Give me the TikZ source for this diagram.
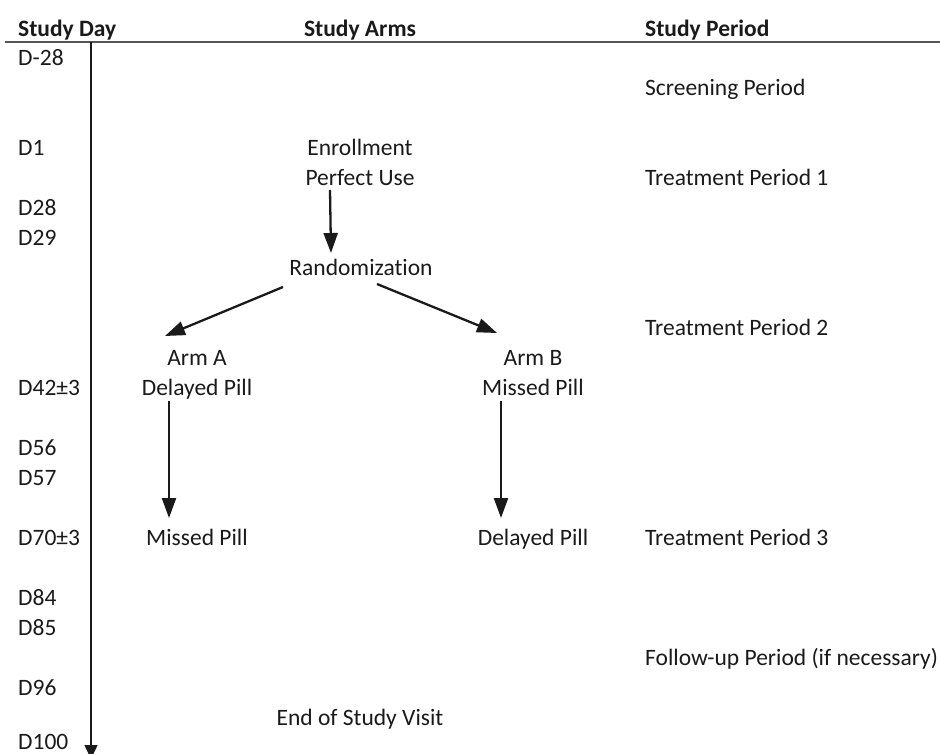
\documentclass[tikz,border=0pt]{standalone}
\usepackage{fontspec}
\setmainfont[Ligatures={NoCommon}]{Carlito}
\usetikzlibrary{arrows.meta,calc}
\definecolor{ink}{HTML}{1A1A1A}
\definecolor{rule}{HTML}{555555}
\begin{document}
\begin{tikzpicture}[x=1pt,y=-1pt,
  txt/.style={inner sep=0pt, text height=15pt, text depth=0pt, font=\fontsize{23.5}{28}\selectfont, text=ink},
  lt/.style={txt, anchor=west},
  hd/.style={txt, font=\fontsize{23.5}{28}\selectfont\bfseries},
  arr/.style={draw=ink, line width=2.3pt, -{Triangle[length=20pt,width=14pt]}},
  axis/.style={draw=ink, line width=1.5pt, -{Triangle[length=14pt,width=13pt]}},
  hrule/.style={draw=rule, line width=2pt}]
\useasboundingbox (0,0) rectangle (940,753);
\clip (0,0) rectangle (940,753);
% headers
\node[hd, anchor=west] (hday) at (18,28.5) {Study Day};
\node[hd] (harms) at (360,28.5) {Study Arms};
\node[hd, anchor=west] (hper) at (645,28.5) {Study Period};
\coordinate (rl) at (5,41.5);
\coordinate (rr) at (940,41.5);
\draw[hrule] (rl) -- (rr);
% axis
\coordinate (axtop) at (91,42);
\coordinate (axbot) at (91,759);
\draw[axis] (axtop) -- (axbot);
% days
\node[lt] (d1) at (18,58) {D-28};
\node[lt] (d2) at (18,148) {D1};
\node[lt] (d3) at (18,208) {D28};
\node[lt] (d4) at (18,238) {D29};
\node[lt] (d5) at (18,388) {D42±3};
\node[lt] (d6) at (18,448) {D56};
\node[lt] (d7) at (18,478) {D57};
\node[lt] (d8) at (18,538) {D70±3};
\node[lt] (d9) at (18,598) {D84};
\node[lt] (d10) at (18,628) {D85};
\node[lt] (d11) at (18,688) {D96};
\node[lt] (d12) at (18,742) {D100};
% periods
\node[lt] (p1) at (645,88) {Screening Period};
\node[lt] (p2) at (645,178) {Treatment Period 1};
\node[lt] (p3) at (645,328) {Treatment Period 2};
\node[lt] (p4) at (645,538) {Treatment Period 3};
\node[lt] (p5) at (645,658) {Follow-up Period (if necessary)};
% arms
\node[txt] (enr) at (360,148) {Enrollment};
\node[txt] (pu) at (360,178) {Perfect Use};
\node[txt] (rand) at (361,268) {Randomization};
\node[txt] (armA) at (197,358) {Arm A};
\node[txt] (dpA) at (197,388) {Delayed Pill};
\node[txt] (armB) at (533,358) {Arm B};
\node[txt] (mpB) at (533,388) {Missed Pill};
\node[txt] (mpA) at (197,538) {Missed Pill};
\node[txt] (dpB) at (533,538) {Delayed Pill};
\node[txt] (eos) at (360,718) {End of Study Visit};
% arrows
\draw[arr] ($(pu)+(-30,12)$) -- ($(rand)+(-30,-15)$);
\draw[arr] ($(rand)+(-78,19)$) -- ($(armA)+(-32,-22)$);
\draw[arr] ($(rand)+(16,16)$) -- ($(armB)+(-36,-25)$);
\draw[arr] ($(dpA)+(-28,13)$) -- ($(mpA)+(-28,-20)$);
\draw[arr] ($(mpB)+(-32,13)$) -- ($(dpB)+(-32,-20)$);
\end{tikzpicture}
\end{document}
